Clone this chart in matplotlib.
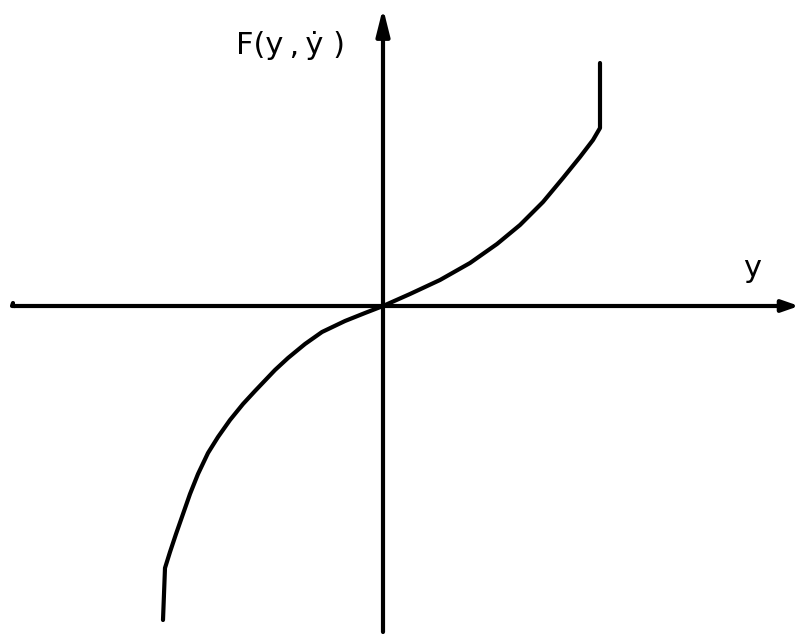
import matplotlib
matplotlib.use("Agg")
import matplotlib.pyplot as plt

# Curve F(y, y') (origin at the axes crossing)
curve_y = [-2.20, -2.18, -2.13, -2.07, -2.00, -1.93, -1.85, -1.75, -1.65, -1.53, -1.40, -1.28,
           -1.08, -0.95, -0.78, -0.61, -0.38, -0.18,
           0.00, 0.27, 0.57, 0.87, 1.14, 1.37, 1.60, 1.80, 1.97, 2.10, 2.17, 2.17]
curve_F = [-3.14, -2.62, -2.46, -2.28, -2.08, -1.88, -1.68, -1.47, -1.31, -1.14, -0.98, -0.85,
           -0.64, -0.52, -0.38, -0.26, -0.15, -0.07,
           0.00, 0.12, 0.26, 0.43, 0.62, 0.81, 1.04, 1.28, 1.49, 1.66, 1.78, 2.43]

x_label = "y"
y_label = "F(y\u2009,\u2009\u1e8f )"

fig = plt.figure(figsize=(7.99, 6.34), dpi=100)
ax = fig.add_axes([0, 0, 1, 1])
ax.set_xlim(-3.83, 4.16)
ax.set_ylim(-3.28, 3.06)
ax.axis("off")

lw = 3.0
# horizontal axis with small hook at the left end
ax.plot([-3.70, -3.71, -3.68], [0.03, 0.0, 0.0], color="black", lw=lw, solid_capstyle="round")
ax.annotate("", xy=(4.16, 0.0), xytext=(-3.69, 0.0),
            arrowprops=dict(arrowstyle="-|>,head_length=1.0,head_width=0.35", color="black", lw=lw,
                            shrinkA=0, shrinkB=0))
# vertical axis
ax.annotate("", xy=(0.0, 2.98), xytext=(0.0, -3.26),
            arrowprops=dict(arrowstyle="-|>,head_length=1.6,head_width=0.4", color="black", lw=lw,
                            shrinkA=0, shrinkB=0))

ax.plot(curve_y, curve_F, color="black", lw=lw, solid_joinstyle="round", solid_capstyle="round")

ax.text(-0.93, 2.61, y_label, fontsize=22, ha="center", va="center", family="DejaVu Sans")
ax.text(3.69, 0.38, x_label, fontsize=22, ha="center", va="center", family="DejaVu Sans")

fig.savefig("out.png", dpi=100)
